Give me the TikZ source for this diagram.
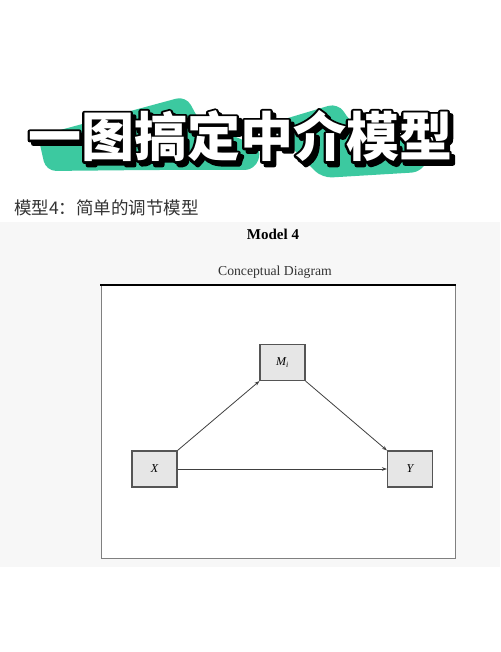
\documentclass[tikz,border=0pt]{standalone}
\usepackage{fontspec}
\setmainfont{Liberation Serif}
\newfontfamily\cjk{Noto Sans CJK SC}
\usetikzlibrary{arrows.meta}
\definecolor{blobgreen}{HTML}{3CC9A0}
\definecolor{paper}{HTML}{F7F7F7}
\definecolor{boxfill}{HTML}{E6E6E6}
\definecolor{boxline}{HTML}{555555}
\definecolor{subgray}{HTML}{333333}
\tikzset{
  varbox/.style={draw=boxline, line width=1.1pt, fill=boxfill, minimum width=45pt, minimum height=36pt, inner sep=0pt, font=\fontsize{12}{14}\selectfont\itshape},
  pathline/.style={draw=black!75, line width=0.8pt, -{Stealth[length=5pt,width=3.6pt]}},
  titletext/.style={font=\cjk\bfseries\fontsize{53}{60}\selectfont, inner sep=0pt},
}
\newcommand{\titlestr}{一图搞定中介模型}
\newcommand{\strokedtitle}{\special{pdf:literal direct 0 0 0 RG 4.6 w 1 j 2 Tr}\titlestr\special{pdf:literal direct 0 Tr}}
\begin{document}
\begin{tikzpicture}[x=1pt,y=-1pt]
\useasboundingbox (0,0) rectangle (500,652);
\fill[white] (0,0) rectangle (500,652);
% faint paper background of the scanned figure
\fill[paper] (0,222) rectangle (500,567);
% green brush blobs
\fill[blobgreen, rounded corners=10pt] (46,171) -- (38,136) -- (186,96) -- (200,122) -- (262,148) -- (255,170) -- (150,170) -- cycle;
\fill[blobgreen, rounded corners=10pt] (268,124) -- (338,103) -- (352,124) -- (432,148) -- (422,172) -- (322,178) -- cycle;
% title: shadow + outline (stroked text), white face
\node[titletext, text=black] (titleshadow) at (243.5,139.5) {\strokedtitle};
\node[titletext, text=black] (titleoutline) at (240,136) {\strokedtitle};
\node[titletext, text=white] (title) at (240,136) {\titlestr};
% subtitle
\node[anchor=west, inner sep=0pt, text=subgray, font=\cjk\fontsize{17.5}{20}\selectfont] (sub) at (14,208) {模型4：简单的调节模型};
% heading
\node[font=\bfseries\fontsize{15}{17}\selectfont, inner sep=0pt] (model) at (273,234) {Model 4};
\node[font=\fontsize{13.7}{16}\selectfont, inner sep=0pt, text=black!80] (concept) at (275,272) {Conceptual Diagram};
% frame
\fill[white] (101,285) rectangle (455,558);
\draw[black!50, line width=0.8pt] (101,285) -- (101,558) -- (455,558) -- (455,285);
\draw[black, line width=1.3pt] (100,285) -- (456,285);
% variable boxes
\node[varbox] (M) at (282.5,362.5) {M\textsubscript{i}};
\node[varbox] (X) at (154.5,469) {X};
\node[varbox] (Y) at (410,469) {Y};
% paths
\draw[pathline] (X.north east) -- (M.south west);
\draw[pathline] (M.south east) -- (Y.north west);
\draw[pathline] (X.east) -- (Y.west);
\end{tikzpicture}
\end{document}
